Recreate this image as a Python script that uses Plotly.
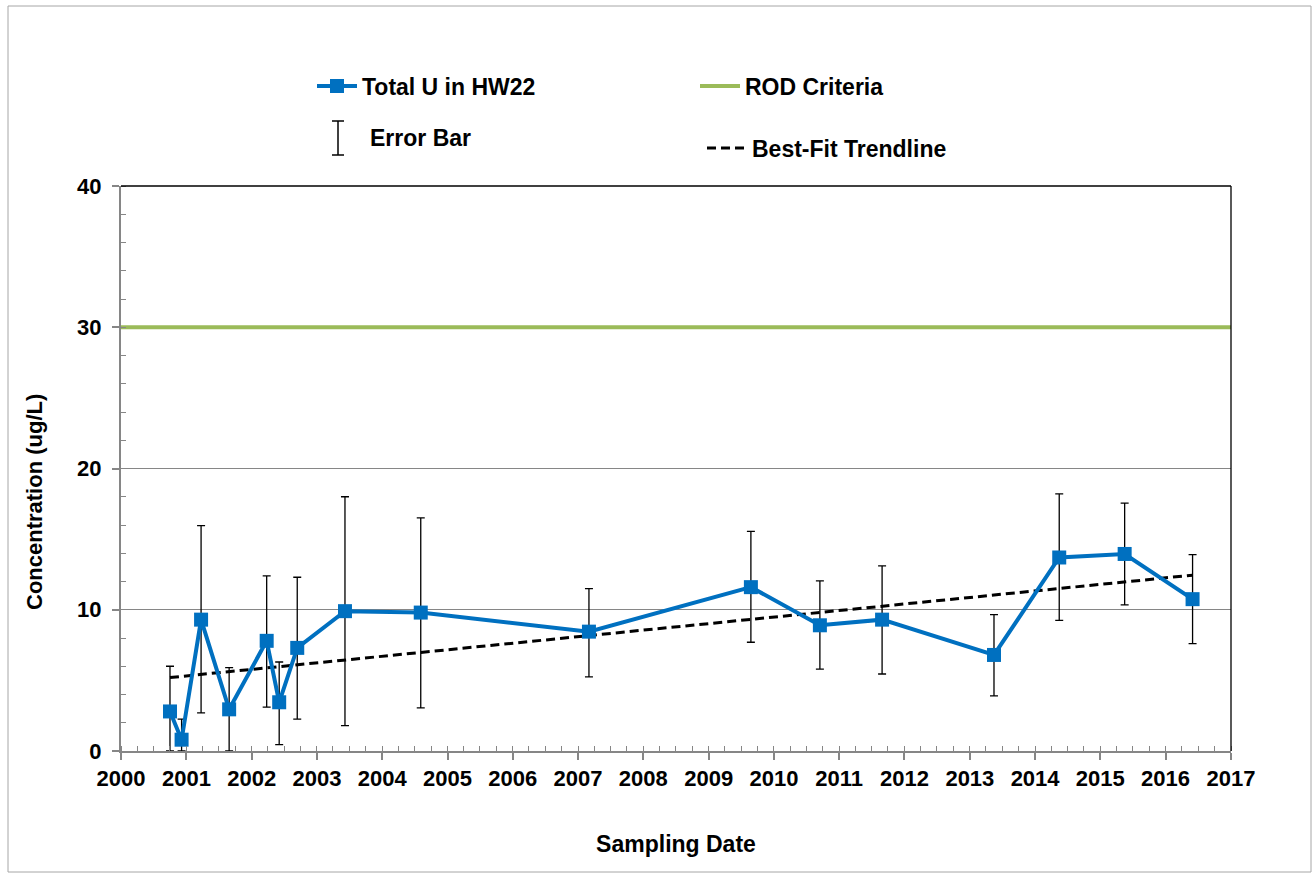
import plotly.graph_objects as go

# ---------------- data ----------------
sample_dates = [
    "2000-10-01", "2000-12-05", "2001-03-24", "2001-08-28", "2002-03-26",
    "2002-06-04", "2002-09-13", "2003-06-07", "2004-08-04", "2007-03-03",
    "2009-08-25", "2010-09-15", "2011-08-29", "2013-05-16", "2014-05-16",
    "2015-05-17", "2016-05-31",
]
total_u = [2.8, 0.8, 9.3, 2.95, 7.8, 3.45, 7.3, 9.9, 9.8, 8.45,
           11.6, 8.9, 9.3, 6.8, 13.7, 13.95, 10.75]
err_upper_bound = [6.0, 2.25, 15.95, 5.9, 12.4, 6.3, 12.3, 18.0, 16.5, 11.5,
                   15.55, 12.05, 13.1, 9.65, 18.2, 17.55, 13.9]
err_lower_bound = [0.0, 0.0, 2.7, 0.0, 3.1, 0.45, 2.25, 1.8, 3.05, 5.25,
                   7.7, 5.8, 5.45, 3.9, 9.25, 10.35, 7.6]

rod_dates = ["2000-01-01", "2017-01-01"]
rod_value = [30, 30]

trend_dates = ["2000-10-01", "2016-05-31"]
trend_values = [5.2, 12.45]

# ---------------- styling ----------------
BLUE = "#0070C0"
GREEN = "#9BBB59"
GRAY = "#868686"
FONT = "Liberation Sans"

err_plus = [u - v for u, v in zip(err_upper_bound, total_u)]
err_minus = [v - l for v, l in zip(total_u, err_lower_bound)]

fig = go.Figure()

fig.add_trace(go.Scatter(
    x=rod_dates, y=rod_value, mode="lines", name="ROD Criteria",
    line=dict(color=GREEN, width=4), legend="legend", legendrank=2,
    hoverinfo="skip",
))

fig.add_trace(go.Scatter(
    x=sample_dates, y=total_u, mode="markers", name="Error Bar",
    marker=dict(size=0, color="rgba(0,0,0,0)"),
    error_y=dict(type="data", symmetric=False, array=err_plus,
                 arrayminus=err_minus, color="black", thickness=1.3, width=4),
    legend="legend2",
))

fig.add_trace(go.Scatter(
    x=trend_dates, y=trend_values, mode="lines", name="Best-Fit Trendline",
    line=dict(color="black", width=3, dash="9px,5px"),
    legend="legend3",
))

fig.add_trace(go.Scatter(
    x=sample_dates, y=total_u, mode="lines+markers", name="Total U in HW22",
    line=dict(color=BLUE, width=4),
    marker=dict(symbol="square", size=14, color=BLUE),
    legend="legend", legendrank=1,
))

tick_font = dict(family=FONT, size=22, color="black", weight="bold")
legend_font = dict(family=FONT, size=23, color="black", weight="bold")
xtitle_font = dict(family=FONT, size=23, color="black", weight="bold")
ytitle_font = dict(family=FONT, size=22, color="black", weight="bold")

L, R, T, B = 121, 82, 186, 123
W, H = 1313, 874
pw, ph = W - L - R, H - T - B

def px_x(px):
    return (px - L) / pw

def px_y(py):
    return (H - B - py) / ph

# legend glyph for "Error Bar" drawn as an I-beam
eb_x = 338
eb_top, eb_bot, eb_cap = 121, 155, 6

legend_common = dict(orientation="h", xanchor="left", yanchor="middle",
                     entrywidth=328, entrywidthmode="pixels", itemwidth=40,
                     font=legend_font, bgcolor="rgba(0,0,0,0)")

fig.update_layout(
    width=W, height=H,
    margin=dict(l=L, r=R, t=T, b=B),
    paper_bgcolor="white", plot_bgcolor="white",
    font=tick_font,
    showlegend=True,
    legend=dict(x=px_x(312), y=px_y(86), **legend_common),
    legend2=dict(x=px_x(320), y=px_y(137), **legend_common),
    legend3=dict(x=px_x(702), y=px_y(148), **legend_common),
    xaxis=dict(
        type="date", range=["2000-01-01", "2017-01-01"],
        tick0="2000-01-01", dtick="M12", tickformat="%Y",
        ticks="outside", ticklen=7, tickwidth=1.5, tickcolor=GRAY,
        showline=True, linecolor=GRAY, linewidth=2,
        showgrid=False, zeroline=False,
        minor=dict(dtick="M3", tick0="2000-01-01", ticks="inside",
                   ticklen=5, tickwidth=1.2, tickcolor=GRAY, showgrid=False),
        tickfont=tick_font,
        title=dict(text="Sampling Date", font=xtitle_font, standoff=45),
        automargin=True,
    ),
    yaxis=dict(
        range=[0, 40], dtick=10, tick0=0,
        ticks="outside", ticklen=7, tickwidth=1.5, tickcolor=GRAY,
        showline=True, linecolor=GRAY, linewidth=2,
        showgrid=True, gridcolor=GRAY, gridwidth=1, zeroline=False,
        minor=dict(dtick=2, ticks="inside", ticklen=5, tickwidth=1.2,
                   tickcolor=GRAY, showgrid=False),
        tickfont=tick_font,
        ticklabelstandoff=6,
        automargin=False,
    ),
    annotations=[
        dict(text="Concentration (ug/L)", textangle=-90, showarrow=False,
             xref="paper", yref="paper", x=px_x(35), y=px_y(502),
             xanchor="center", yanchor="middle", font=ytitle_font),
    ],
    shapes=[
        # outer chart border
        dict(type="rect", xref="paper", yref="paper",
             x0=px_x(8), x1=px_x(1311), y0=px_y(872), y1=px_y(6),
             line=dict(color="#A6A6A6", width=1), layer="below"),
        # plot-area top and right border
        dict(type="line", xref="paper", yref="paper", x0=0, x1=1, y0=1, y1=1,
             line=dict(color="black", width=1.3)),
        dict(type="line", xref="paper", yref="paper", x0=1, x1=1, y0=0, y1=1,
             line=dict(color="black", width=1.3)),
        # error-bar legend glyph (I-beam)
        dict(type="line", xref="paper", yref="paper",
             x0=px_x(eb_x), x1=px_x(eb_x), y0=px_y(eb_bot), y1=px_y(eb_top),
             line=dict(color="black", width=1.5)),
        dict(type="line", xref="paper", yref="paper",
             x0=px_x(eb_x - eb_cap), x1=px_x(eb_x + eb_cap),
             y0=px_y(eb_top), y1=px_y(eb_top),
             line=dict(color="black", width=1.5)),
        dict(type="line", xref="paper", yref="paper",
             x0=px_x(eb_x - eb_cap), x1=px_x(eb_x + eb_cap),
             y0=px_y(eb_bot), y1=px_y(eb_bot),
             line=dict(color="black", width=1.5)),
    ],
)

fig.write_html("out.html")
